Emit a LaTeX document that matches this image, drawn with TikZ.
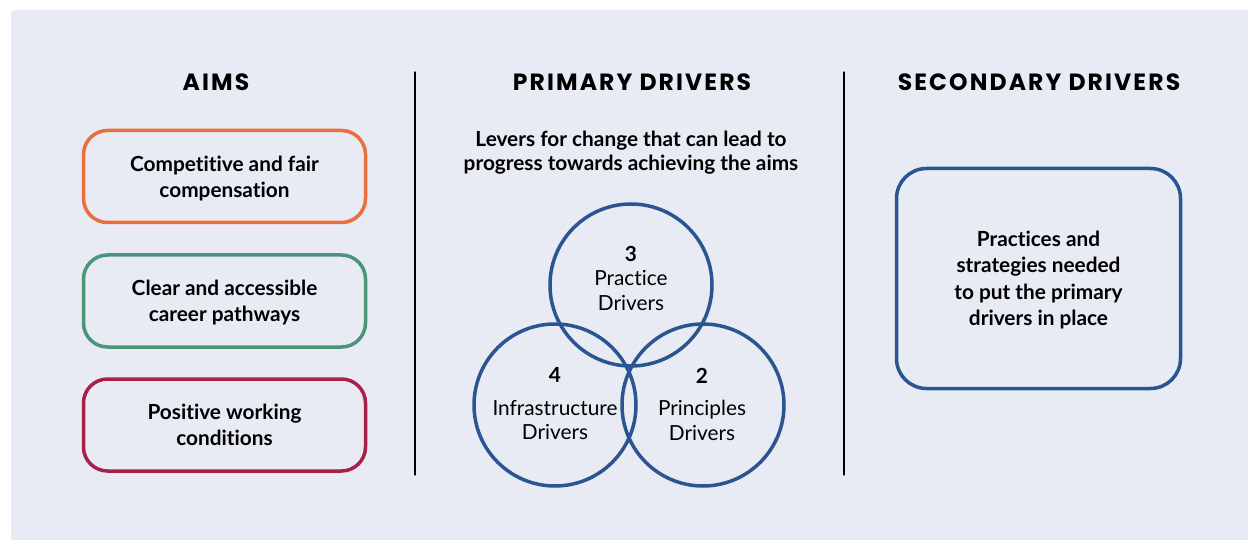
\documentclass[tikz,border=0pt]{standalone}
\usepackage{fontspec}
\setmainfont{Lato}[Ligatures=NoCommon]
\newfontfamily\headfont[LetterSpace=9]{Poppins}
\usetikzlibrary{positioning}

\definecolor{bgcol}{HTML}{E8EBF3}
\definecolor{aimorange}{HTML}{E8703A}
\definecolor{aimgreen}{HTML}{4A9479}
\definecolor{aimred}{HTML}{A8214B}
\definecolor{drvblue}{HTML}{2B5591}

\tikzset{
	heading/.style={font=\headfont\bfseries\fontsize{23.5}{26}\selectfont, text=black},
	aimbox/.style={draw=#1, line width=3.5pt, rounded corners=24pt, minimum width=282pt, minimum height=92pt, text depth=0pt, align=center, font=\bfseries\fontsize{20.8}{26}\selectfont},
	circdrv/.style={draw=drvblue, line width=3.5pt, circle, minimum size=162pt, inner sep=0pt},
	drvtext/.style={align=center, font=\fontsize{20.8}{24.5}\selectfont},
	divider/.style={line width=1.3pt, black}
}

\begin{document}
\begin{tikzpicture}[x=1pt, y=-1pt, line join=round, line cap=round]
	\useasboundingbox (0,0) rectangle (1248,540);
	\fill[bgcol, rounded corners=4pt] (11,10) rectangle (1260,552);

	% column headings
	\node[heading] (aims) at (216,82) {AIMS};
	\node[heading] (prim) at (632,82) {PRIMARY DRIVERS};
	\node[heading] (sec) at (1039,82) {SECONDARY DRIVERS};
	\node[align=center, font=\bfseries\fontsize{20.8}{24.5}\selectfont] (lever) at (631,152.5) {Levers for change that can lead to\\progress towards achieving the aims};

	% dividers
	\coordinate (d1t) at (415,72); \coordinate (d1b) at (415,475);
	\coordinate (d2t) at (844,72); \coordinate (d2b) at (844,475);
	\draw[divider] (d1t) -- (d1b);
	\draw[divider] (d2t) -- (d2b);

	% aims
	\node[aimbox=aimorange] (compens) at (224.5,176.5) {Competitive and fair\\compensation};
	\node[aimbox=aimgreen] (career) at (224.5,301) {Clear and accessible\\career pathways};
	\node[aimbox=aimred] (working) at (224.5,425) {Positive working\\conditions};

	% primary drivers
	\node[circdrv] (practice) at (631,285) {};
	\node[circdrv] (infra) at (555,405) {};
	\node[circdrv] (princ) at (703,405) {};
	\node[drvtext] (practicetx) at (631,278) {\textbf{3}\\Practice\\Drivers};
	\node[drvtext] (infratx) at (555,404) {\textbf{4}\\[8pt]Infrastructure\\Drivers};
	\node[drvtext] (princtx) at (702,404) {\textbf{2}\\[8pt]Principles\\Drivers};

	% secondary drivers
	\node[draw=drvblue, line width=3.5pt, rounded corners=30pt, minimum width=284pt, minimum height=220pt, text depth=0pt, align=center, font=\bfseries\fontsize{20.8}{26.5}\selectfont] (practices) at (1038.5,278.5) {Practices and\\strategies needed\\to put the primary\\drivers in place};
\end{tikzpicture}
\end{document}
